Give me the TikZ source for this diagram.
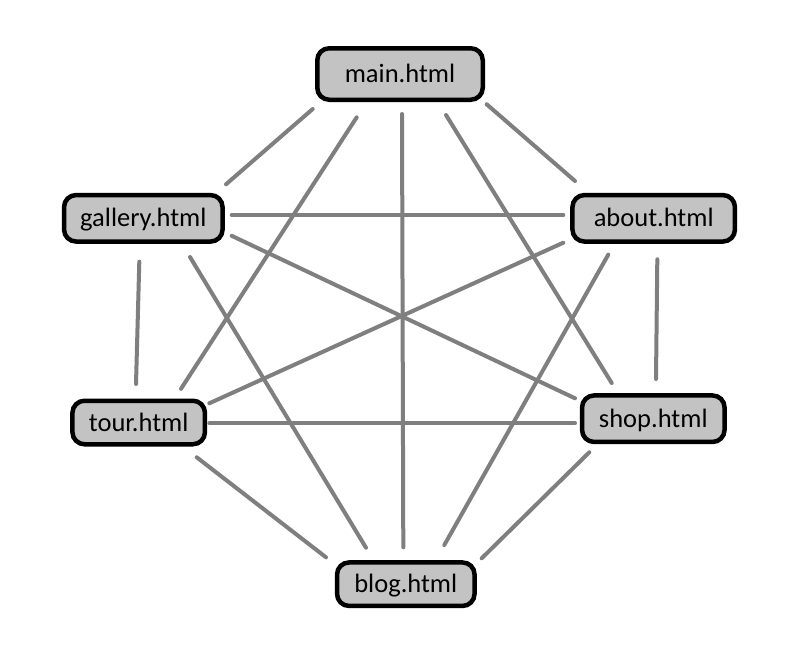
\documentclass[tikz,border=0pt]{standalone}
\usepackage{fontspec}
\setmainfont{Carlito}
\definecolor{boxfill}{RGB}{195,195,195}
\definecolor{edgegray}{RGB}{127,127,127}
\tikzset{
  page/.style={draw=black, line width=4.5pt, fill=boxfill, rounded corners=12pt,
    inner sep=0pt, text height=17pt, text depth=0pt, font=\fontsize{26.5pt}{30pt}\selectfont},
  link/.style={draw=edgegray, line width=4pt, line cap=round}
}
\begin{document}
\begin{tikzpicture}[x=1pt,y=-1pt]
\useasboundingbox (0,0) rectangle (808,656);
\fill[white] (0,0) rectangle (808,656);
% nodes
\node[page, minimum width=165.5pt, minimum height=51.5pt] (main) at (400,74) {main.html};
\node[page, minimum width=158.5pt, minimum height=46.5pt] (gallery) at (143.3,218.3) {gallery.html};
\node[page, minimum width=162.5pt, minimum height=46.5pt] (about) at (653.7,218.3) {about.html};
\node[page, minimum width=132.5pt, minimum height=43.5pt] (tour) at (138.7,422.5) {tour.html};
\node[page, minimum width=142.5pt, minimum height=46.5pt] (shop) at (653.3,418.7) {shop.html};
\node[page, minimum width=137.5pt, minimum height=43.5pt] (blog) at (405.8,584.2) {blog.html};
% connector end points
\coordinate (mg1) at (312.7,109);   \coordinate (mg2) at (226,184.3);
\coordinate (ma1) at (486.7,104.3); \coordinate (ma2) at (575,181);
\coordinate (mt1) at (356.7,117.3); \coordinate (mt2) at (181,388.8);
\coordinate (ms1) at (446,115);     \coordinate (ms2) at (611.7,383);
\coordinate (mb1) at (402,114);     \coordinate (mb2) at (403.3,547.3);
\coordinate (ga1) at (231.7,215);   \coordinate (ga2) at (563.3,215);
\coordinate (gt1) at (139.3,261.7); \coordinate (gt2) at (136,384);
\coordinate (gs1) at (231.7,235.8); \coordinate (gs2) at (575,398.3);
\coordinate (gb1) at (190,257);     \coordinate (gb2) at (366,547.7);
\coordinate (at1) at (563.3,242.7); \coordinate (at2) at (209.3,403.3);
\coordinate (as1) at (657.3,259.3); \coordinate (as2) at (656,379);
\coordinate (ab1) at (608.3,254.6); \coordinate (ab2) at (444.3,545);
\coordinate (ts1) at (209.3,423.3); \coordinate (ts2) at (575,423.3);
\coordinate (tb1) at (196.7,457.3); \coordinate (tb2) at (326,557.3);
\coordinate (sb1) at (589.3,452.3); \coordinate (sb2) at (481.7,558.3);
% connectors
\foreach \e in {mg,ma,mt,ms,mb,ga,gt,gs,gb,at,as,ab,ts,tb,sb}
  \draw[link] (\e1) -- (\e2);
\end{tikzpicture}
\end{document}
